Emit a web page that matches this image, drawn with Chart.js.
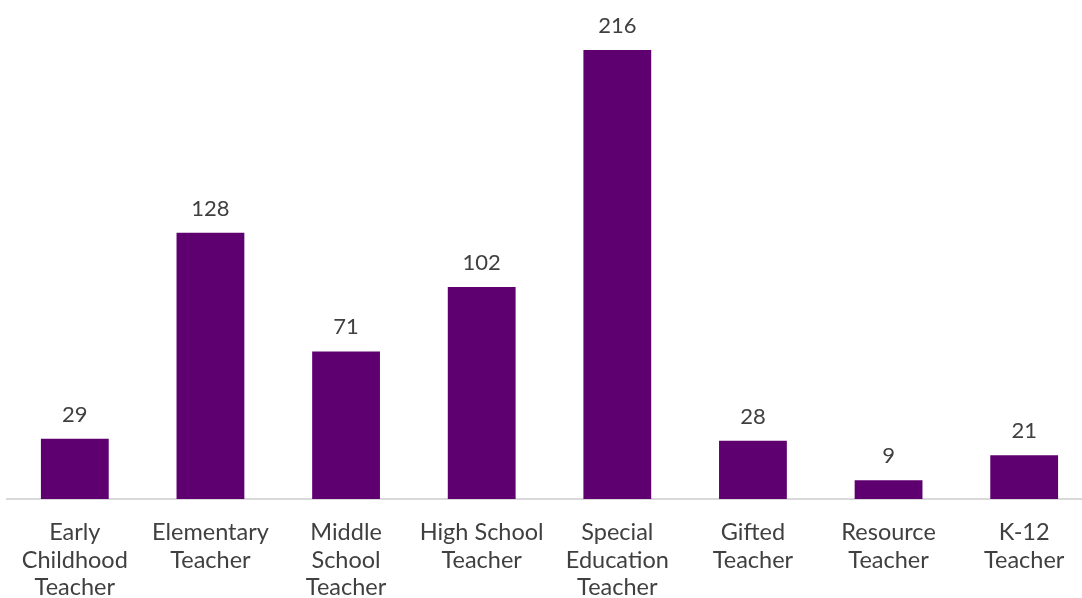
<!DOCTYPE html>
<html><head><meta charset="utf-8">
<script src="https://cdn.jsdelivr.net/npm/chart.js@4"></script>
<style>html,body{margin:0;padding:0;background:#fff;overflow:hidden}#wrap{width:1094px;height:598px}</style>
</head><body><div id="wrap"><canvas id="c"></canvas></div>
<script>
const categories = [
  ["Early","Childhood","Teacher"],
  ["Elementary","Teacher"],
  ["Middle","School","Teacher"],
  ["High School","Teacher"],
  ["Special","Education","Teacher"],
  ["Gifted","Teacher"],
  ["Resource","Teacher"],
  ["K-12","Teacher"]
];
const counts = [29, 128, 71, 102, 216, 28, 9, 21];

const valueLabels = {
  id: 'valueLabels',
  afterDatasetsDraw(chart) {
    const ctx = chart.ctx;
    const meta = chart.getDatasetMeta(0);
    ctx.save();
    ctx.font = '22px Lato';
    ctx.fillStyle = '#404040';
    ctx.textAlign = 'center';
    ctx.textBaseline = 'alphabetic';
    meta.data.forEach((bar, i) => {
      ctx.fillText(String(counts[i]), bar.x, bar.y - 17);
    });
    ctx.restore();
  }
};

new Chart(document.getElementById('c'), {
  type: 'bar',
  data: {
    labels: categories,
    datasets: [{
      data: counts,
      backgroundColor: '#5F0070',
      categoryPercentage: 1,
      barPercentage: 0.5
    }]
  },
  options: {
    responsive: true,
    maintainAspectRatio: false,
    animation: false,
    layout: { padding: { left: 7, right: 2, top: 0, bottom: 0 } },
    plugins: { legend: { display: false }, tooltip: { enabled: false } },
    scales: {
      x: {
        grid: { display: false, drawTicks: false },
        border: { display: true, color: '#d9d9d9', width: 2 },
        ticks: { color: '#404040', font: { family: 'Lato', size: 23.5, lineHeight: 1.17 }, padding: 20, maxRotation: 0, autoSkip: false },
        afterFit(scale) { scale.height = 99; }
      },
      y: { display: false, min: 0, max: 240 }
    }
  },
  plugins: [valueLabels]
});
</script>
</body></html>
